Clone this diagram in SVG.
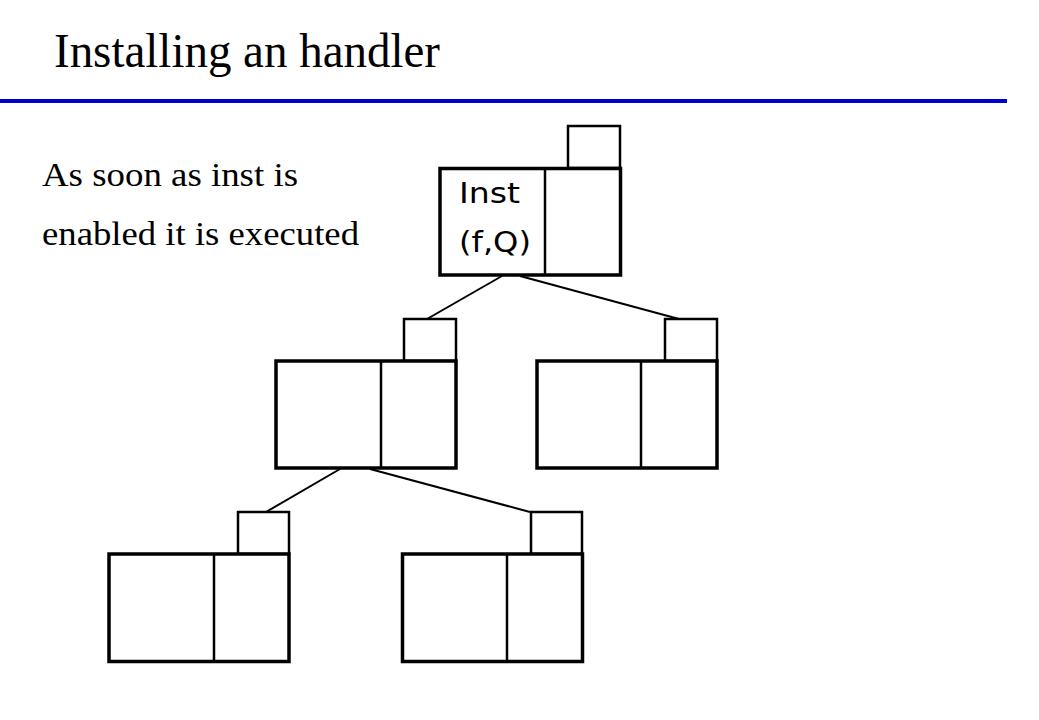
<svg xmlns="http://www.w3.org/2000/svg" width="1039" height="720" viewBox="0 0 1039 720">
<style>
.title{font-family:"Liberation Serif","Times New Roman",serif;font-size:48px;fill:#000}
.body{font-family:"Liberation Serif","Times New Roman",serif;font-size:34px;fill:#000}
.lbl{font-family:"DejaVu Sans","Verdana",sans-serif;font-size:28px;fill:#000}
.box{fill:#fff;stroke:#000;stroke-width:3.5}
.div{stroke:#000;stroke-width:2.5}
.tab{fill:#fff;stroke:#000;stroke-width:2.5}
.edge{stroke:#000;stroke-width:2;fill:none}
</style>
<rect x="0" y="0" width="1039" height="720" fill="#fff"/>
<text class="title" x="54" y="67" textLength="386" lengthAdjust="spacingAndGlyphs">Installing an handler</text>
<rect x="0" y="99" width="1007" height="4" fill="#0000CC"/>
<text class="body" x="42" y="186" textLength="256" lengthAdjust="spacingAndGlyphs">As soon as inst is</text>
<text class="body" x="42" y="245" textLength="317" lengthAdjust="spacingAndGlyphs">enabled it is executed</text>
<g id="connectors">
<line class="edge" x1="502" y1="276" x2="427" y2="319"/>
<line class="edge" x1="520" y1="276" x2="679" y2="319"/>
<line class="edge" x1="340" y1="469" x2="266" y2="512"/>
<line class="edge" x1="370" y1="469" x2="530" y2="512"/>
</g>
<g id="root">
<rect class="tab" x="568" y="126" width="52" height="42"/>
<rect class="box" x="440" y="168.5" width="180.5" height="106.5"/>
<line class="div" x1="545" y1="168.5" x2="545" y2="275"/>
<text class="lbl" x="459" y="203" textLength="61" lengthAdjust="spacingAndGlyphs">Inst</text>
<text class="lbl" x="459" y="252" textLength="72" lengthAdjust="spacingAndGlyphs">(f,Q)</text>
</g>
<g id="mid-left">
<rect class="tab" x="404" y="319" width="52" height="42"/>
<rect class="box" x="276" y="361" width="180" height="107"/>
<line class="div" x1="381" y1="361" x2="381" y2="468"/>
</g>
<g id="mid-right">
<rect class="tab" x="665" y="319" width="52" height="42"/>
<rect class="box" x="537" y="361" width="180" height="107"/>
<line class="div" x1="641" y1="361" x2="641" y2="468"/>
</g>
<g id="bottom-left">
<rect class="tab" x="238" y="512" width="51" height="42"/>
<rect class="box" x="109" y="554" width="180" height="107.5"/>
<line class="div" x1="214" y1="554" x2="214" y2="661.5"/>
</g>
<g id="bottom-right">
<rect class="tab" x="531" y="512" width="51" height="42"/>
<rect class="box" x="402.5" y="554" width="180" height="107.5"/>
<line class="div" x1="507" y1="554" x2="507" y2="661.5"/>
</g>
</svg>
